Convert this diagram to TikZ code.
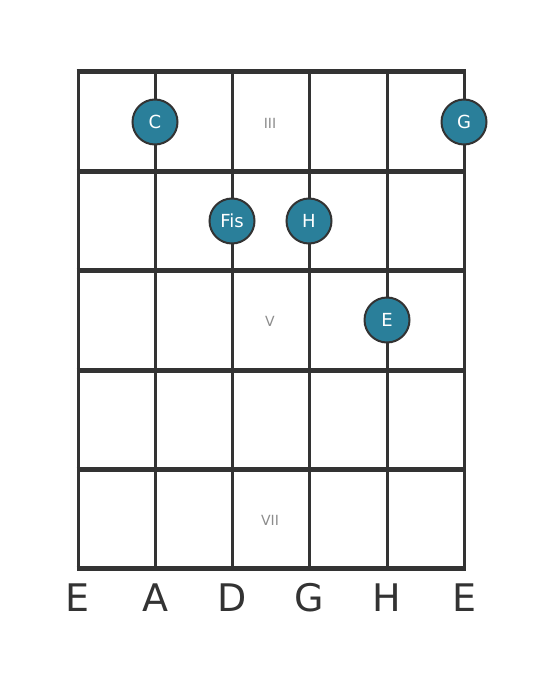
\documentclass[tikz,border=0pt]{standalone}
\usepackage{fontspec}
\setmainfont{DejaVu Sans}
\definecolor{griff}{HTML}{2A7F9A}
\definecolor{linie}{HTML}{333333}
\definecolor{lage}{HTML}{8C8C8C}
\tikzset{
  saite/.style={draw=linie,line width=3pt},
  bund/.style={draw=linie,line width=5pt,shorten <=-1.5pt,shorten >=-1.5pt},
  ton/.style={circle,draw=linie,line width=2pt,fill=griff,minimum size=45pt,inner sep=0pt,text=white,font=\fontsize{18}{18}\selectfont},
  lagenr/.style={text=lage,font=\fontsize{14}{14}\selectfont},
  saitenname/.style={text=linie,font=\fontsize{38}{38}\selectfont}
}
\begin{document}
\begin{tikzpicture}[x=1pt,y=-1pt]
\useasboundingbox (0,0) rectangle (559,682);
% Saiten
\foreach \n/\x/\s in {1/78/E,2/155/A,3/232/D,4/309/G,5/387/H,6/464/E}{
  \coordinate (o\n) at (\x,72);
  \coordinate (u\n) at (\x,568);
  \draw[saite] (o\n) -- (u\n);
  \node[saitenname] (name\n) at (\x,598) {\s};
}
% Buende
\foreach \b/\y in {0/72,1/171,2/270,3/370,4/469,5/568}{
  \coordinate (l\b) at (78,\y);
  \coordinate (r\b) at (464,\y);
  \draw[bund] (l\b) -- (r\b);
}
\node[lagenr] (III) at (270,123){III};
\node[lagenr] (V) at (270,321){V};
\node[lagenr] (VII) at (270,520){VII};
% Toene
\node[ton] (C) at (155,122){C};
\node[ton] (G) at (464,122){G};
\node[ton] (Fis) at (232,221){Fis};
\node[ton] (H) at (309,221){H};
\node[ton] (E) at (387,320){E};
\end{tikzpicture}
\end{document}
